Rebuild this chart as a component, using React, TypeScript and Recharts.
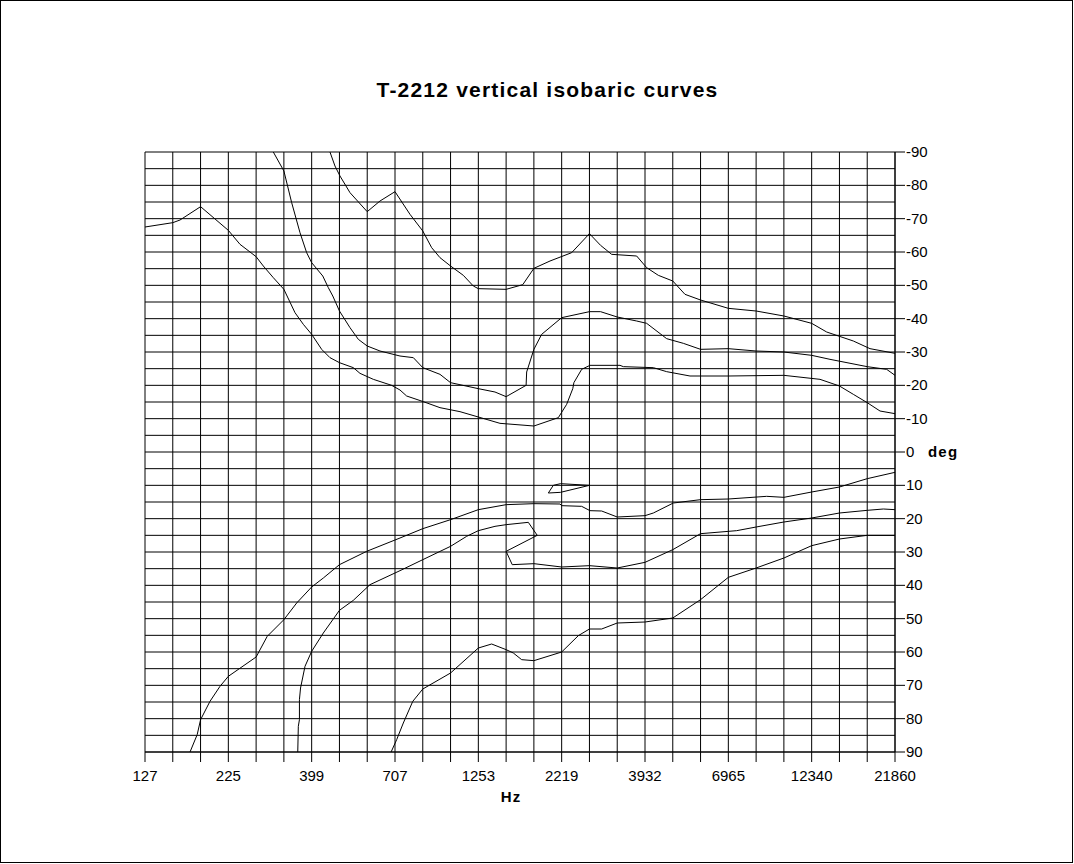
import React from 'react';
import { LineChart, Line, XAxis, YAxis, CartesianGrid } from 'recharts';

// ---- axis definitions ----
const F_MIN = 127;
const F_MAX = 21860;
const X_LABELS = ['127', '225', '399', '707', '1253', '2219', '3932', '6965', '12340', '21860'];
const GRID_DIVISIONS = 27; // 3 grid cells per labelled step
const X_GRID = Array.from({ length: GRID_DIVISIONS + 1 }, (_, i) =>
  i === 0 ? F_MIN : i === GRID_DIVISIONS ? F_MAX : F_MIN * Math.pow(F_MAX / F_MIN, i / GRID_DIVISIONS)
);
const Y_TICKS = [-90, -85, -80, -75, -70, -65, -60, -55, -50, -45, -40, -35, -30, -25, -20, -15, -10, -5, 0,
  5, 10, 15, 20, 25, 30, 35, 40, 45, 50, 55, 60, 65, 70, 75, 80, 85, 90];
const Y_LABELS = ['-90', '-80', '-70', '-60', '-50', '-40', '-30', '-20', '-10', '0', '10', '20', '30', '40', '50', '60', '70', '80', '90'];

// ---- curves: [frequency Hz, angle deg] ----
const curveA: [number, number][] = [
  [127, -67.5], [153.7, -68.8], [161.5, -69.6], [186, -73.6], [225, -66.5], [243.8, -62.3], [272.3, -58.6],
  [286.1, -55.8], [306.4, -52.3], [329.5, -48.8], [355.6, -41.8], [376.5, -38.3], [398.7, -35.3], [427, -30.8],
  [452.1, -28.3], [482.5, -26.8], [530.7, -25.3], [555.5, -23.6], [608.8, -21.8], [690.4, -20], [731.1, -18.6],
  [765.3, -16.8], [858.1, -15.1], [962.1, -13.3], [1103.7, -12.1], [1251.7, -10.5], [1452.4, -8.6], [1832.9, -7.8],
  [2167.6, -10.3], [2295.3, -14.3], [2393.6, -19], [2411.9, -20.8], [2544.2, -24.8], [2694.1, -26], [3310.1, -26],
  [3386.7, -25.6], [4161.1, -25.3], [4559.8, -24.1], [5351.9, -22.8], [6963, -22.8], [10196, -23], [13064, -21.8],
  [14930, -19.8], [16423, -17.3], [18066, -14.8], [19722, -12.3], [21860, -11.5],
];
const curveB: [number, number][] = [
  [306.4, -90], [329.5, -84.3], [347.6, -74.8], [368, -65.8], [385.2, -59.8], [398.7, -56.8], [430.3, -52.8],
  [447, -49.3], [460.9, -46.8], [482.5, -42.3], [518.7, -37.3], [549.2, -33.8], [583.8, -31.8], [637.3, -30.3],
  [731.1, -28.8], [801.2, -28.3], [854.9, -25.3], [962.1, -23.3], [1034.4, -20.8], [1251.7, -19], [1403.4, -18],
  [1514.7, -16.6], [1737.5, -20], [1744.2, -24], [1832.9, -30.8], [1933.4, -35.3], [2217.9, -40.3], [2683.8, -42.1],
  [2896.4, -42.1], [3247.6, -40.5], [3711.2, -39.3], [3975, -38.6], [4559.8, -34], [5112.5, -32.6], [5754.2, -30.8],
  [6963, -31], [8425.7, -30.3], [10196, -30], [12338, -29], [13992, -27.8], [18066, -25.6], [20645, -24.8], [21860, -23],
];
const curveC: [number, number][] = [
  [452.1, -90], [467.9, -85.8], [484.3, -82.8], [518.7, -77.8], [583.8, -72.1], [637.3, -75.3], [706.5, -78.1],
  [783, -71.3], [854.9, -66.3], [908.6, -61.3], [962.1, -58.3], [1034.4, -55.8], [1129.2, -53], [1209.4, -49.8],
  [1251.7, -49], [1514.7, -48.8], [1698.2, -50.2], [1832.9, -55.1], [2047.2, -57.3], [2375.4, -59.8], [2683.8, -65.5],
  [2896.4, -62], [3125.9, -59.3], [3711.2, -58.8], [3975, -55.3], [4306.3, -53], [4755.3, -51.3], [5171.3, -47.3],
  [5754.2, -45.6], [6963, -43.1], [8425.7, -42.3], [10196, -40.8], [12338, -38.6], [13676, -36], [16423, -33.3],
  [18414, -31], [21860, -29.6],
];
const curveD: [number, number][] = [
  [173, 90], [181.7, 84.8], [186, 80.3], [198.4, 74.8], [212.5, 70.3], [225, 67.3], [272.3, 61.5], [293.9, 55.3],
  [329.5, 50.3], [359.7, 45.3], [398.7, 40.5], [431.9, 37.8], [482.5, 33.8], [581.6, 29.8], [731.1, 25.8],
  [854.9, 23], [1034.4, 20.3], [1251.7, 17.3], [1514.7, 15.8], [1832.9, 15.5], [2192.6, 15.6], [2217.9, 16.1],
  [2544.2, 16.3], [2694.1, 17.6], [2918.6, 17.7], [3247.6, 19.5], [3929.8, 19.1], [4161.1, 18.3], [4773.5, 15.3],
  [5754.2, 14.3], [6963, 14.1], [9058.6, 13.3], [10196, 13.6], [12338, 12], [14930, 10.5], [18066, 8], [21860, 6.1],
];
const curveE: [number, number][] = [
  [362.4, 90], [363.8, 82.3], [366.6, 80.3], [366.6, 74.3], [369.4, 70.8], [380.9, 64.3], [398.7, 59.8],
  [431.9, 54.3], [482.5, 47.5], [530.7, 44.5], [595, 39.8], [731.1, 35.6], [854.9, 32.3], [1034.4, 28.3],
  [1155.3, 25.3], [1251.7, 23.6], [1403.4, 22.3], [1514.7, 21.8], [1764.2, 21.1], [1875.3, 25], [1514.7, 29.8],
  [1579.6, 33.8], [1832.9, 33.5], [2217.9, 34.5], [2683.8, 34.1], [3247.6, 34.8], [3929.8, 33.1], [4755.3, 29.3],
  [5754.2, 24.5], [7372.8, 23.6], [8425.7, 22.5], [10196, 21], [12338, 19.8], [14930, 18.3], [18066, 17.5],
  [20178, 17.1], [21860, 17.3],
];
const curveF: [number, number][] = [
  [687.8, 90], [714.6, 86.3], [748, 81.3], [798.1, 74.8], [854.9, 71.1], [1034.4, 66.3], [1251.7, 58.8],
  [1371.6, 57.6], [1514.7, 59.3], [1591.7, 60.3], [1685.3, 62.3], [1832.9, 62.6], [2217.9, 60], [2486.6, 55.1],
  [2683.8, 53.1], [2918.6, 53.1], [3247.6, 51.3], [3929.8, 51], [4755.3, 49.8], [5754.2, 44.3], [6963, 37.6],
  [8425.7, 34.8], [10196, 31.8], [12338, 28.1], [14930, 26.1], [18066, 25], [21860, 25],
];
const curveG: [number, number][] = [
  [2023.9, 12.3], [2094.5, 10], [2201, 9.5], [2683.8, 10], [2201, 12.1], [2023.9, 12.3],
];

const CURVES = [curveA, curveB, curveC, curveD, curveE, curveF, curveG];
const SERIES = CURVES.map((c) => c.map(([f, d]) => ({ f, d })));

const FONT = '"Liberation Sans", Arial, sans-serif';

const XTick = (props: any) => {
  const { x, y, payload } = props;
  const idx = X_GRID.findIndex((v) => Math.abs(v - payload.value) / v < 1e-6);
  const label = idx >= 0 && idx % 3 === 0 ? X_LABELS[idx / 3] : null;
  return (
    <g>
      <line x1={x} y1={y} x2={x} y2={y + 10} stroke="#000" strokeWidth={1} />
      {label && (
        <text x={x} y={y + 29} textAnchor="middle" fontSize={15} fontFamily={FONT} fill="#000">
          {label}
        </text>
      )}
    </g>
  );
};

const YTick = (props: any) => {
  const { x, y, payload } = props;
  const v = payload.value;
  if (v % 10 !== 0) return <g />;
  const label = Y_LABELS[(v + 90) / 10];
  return (
    <g>
      <line x1={x} y1={y} x2={x + 10} y2={y} stroke="#000" strokeWidth={1} />
      <text x={x + 11} y={y + 5} textAnchor="start" fontSize={15} fontFamily={FONT} fill="#000">
        {label}
      </text>
    </g>
  );
};

export default function App() {
  return (
    <div style={{ position: 'absolute', left: 0, top: 0, width: 1074, height: 864, background: '#fff' }}>
      <div
        style={{
          position: 'absolute', left: 0, top: 0, width: 1073, height: 863,
          border: '1px solid #000', boxSizing: 'border-box',
        }}
      />
      <div style={{ position: 'absolute', left: 0, top: 0 }}>
        <LineChart width={1074} height={864} margin={{ top: 152, right: 0, bottom: 82, left: 145 }}>
          <CartesianGrid stroke="#000" strokeWidth={1} />
          <XAxis
            dataKey="f"
            type="number"
            scale="log"
            domain={[F_MIN, F_MAX]}
            ticks={X_GRID}
            interval={0}
            allowDataOverflow
            height={30}
            tickSize={0}
            tickMargin={0}
            axisLine={{ stroke: '#000' }}
            tickLine={false}
            tick={<XTick />}
          />
          <YAxis
            dataKey="d"
            type="number"
            orientation="right"
            reversed
            domain={[-90, 90]}
            ticks={Y_TICKS}
            interval={0}
            allowDataOverflow
            width={179}
            tickSize={0}
            tickMargin={0}
            axisLine={{ stroke: '#000' }}
            tickLine={false}
            tick={<YTick />}
          />
          {SERIES.map((s, i) => (
            <Line
              key={i}
              data={s}
              dataKey="d"
              type="linear"
              stroke="#000"
              strokeWidth={1}
              dot={false}
              activeDot={false}
              isAnimationActive={false}
            />
          ))}
        </LineChart>
      </div>
      <svg width={1074} height={864} style={{ position: 'absolute', left: 0, top: 0, pointerEvents: 'none' }}>
        <text x={547.5} y={97} textAnchor="middle" fontSize={21} fontWeight="bold" fontFamily={FONT} letterSpacing={1.2} fill="#000">
          T-2212 vertical isobaric curves
        </text>
        <text x={511} y={802} textAnchor="middle" fontSize={15} fontWeight="bold" fontFamily={FONT} letterSpacing={1.2} fill="#000">
          Hz
        </text>
        <text x={928} y={457} textAnchor="start" fontSize={15} fontWeight="bold" fontFamily={FONT} letterSpacing={1.2} fill="#000">
          deg
        </text>
      </svg>
    </div>
  );
}
